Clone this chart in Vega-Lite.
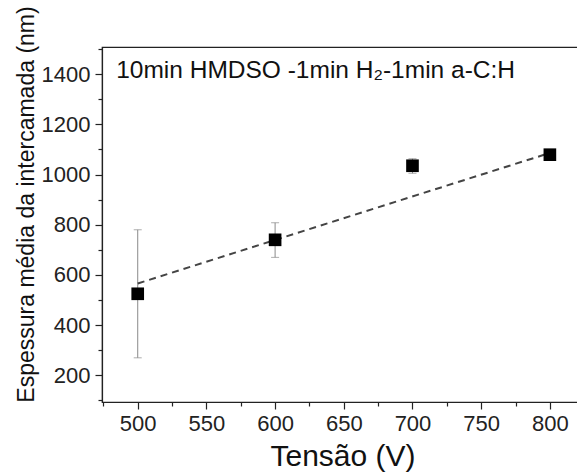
{
  "$schema": "https://vega.github.io/schema/vega-lite/v6.json",
  "autosize": {"type": "none"},
  "padding": {"left": 102, "top": 47, "right": 0, "bottom": 71},
  "width": 477,
  "height": 355,
  "config": {
    "view": {"stroke": "#222", "strokeWidth": 1.2},
    "font": "Liberation Sans",
    "axis": {"domainColor": "#222", "tickColor": "#222", "labelColor": "#222", "titleColor": "#111", "grid": false, "titleFontWeight": "normal"}
  },
  "datasets": {
    "pts": [
      {"tensao": 500, "esp": 525, "lo": 270, "hi": 780},
      {"tensao": 600, "esp": 740, "lo": 670, "hi": 808},
      {"tensao": 700, "esp": 1035, "lo": 1005, "hi": 1063},
      {"tensao": 800, "esp": 1079, "lo": 1068, "hi": 1090}
    ],
    "fit": [
      {"tensao": 500, "esp": 566},
      {"tensao": 800, "esp": 1086}
    ],
    "label": [
      {"tensao": 484.3, "esp": 1384, "txt": "10min HMDSO -1min H₂-1min a-C:H"}
    ]
  },
  "resolve": {"axis": {"x": "independent", "y": "independent"}},
  "layer": [
    {
      "data": {"name": "pts"},
      "mark": {"type": "rule", "color": "#8a8a8a", "strokeWidth": 1},
      "encoding": {
        "x": {"field": "tensao", "type": "quantitative", "scale": {"domain": [474, 821.2], "nice": false, "zero": false},
          "axis": {"values": [500, 550, 600, 650, 700, 750, 800], "format": "d", "tickSize": 7, "tickWidth": 1.2, "labelFontSize": 22, "labelPadding": 4, "title": "Tensão (V)", "titleFontSize": 30, "titleX": 168, "titleY": 63, "titleBaseline": "alphabetic", "titleAnchor": "start", "titleAlign": "left", "domainWidth": 1.2}},
        "y": {"field": "lo", "type": "quantitative", "scale": {"domain": [94, 1508], "nice": false, "zero": false},
          "axis": {"values": [200, 400, 600, 800, 1000, 1200, 1400], "format": "d", "tickSize": 7, "tickWidth": 1.2, "labelFontSize": 22, "labelPadding": 5, "title": "Espessura média da intercamada (nm)", "titleFontSize": 23, "titleX": -69, "titleY": 157, "titleBaseline": "alphabetic", "titleAlign": "center", "titleAnchor": "middle", "domainWidth": 1.2}},
        "y2": {"field": "hi"}
      }
    },
    {
      "data": {"name": "pts"},
      "mark": {"type": "tick", "orient": "horizontal", "color": "#8a8a8a", "size": 8, "thickness": 1},
      "encoding": {
        "x": {"field": "tensao", "type": "quantitative", "axis": {"values": [475, 525, 575, 625, 675, 725, 775], "tickSize": 4, "tickWidth": 1.2, "labels": false, "domain": false, "title": null, "orient": "bottom"}},
        "y": {"field": "lo", "type": "quantitative", "axis": {"values": [100, 300, 500, 700, 900, 1100, 1300, 1500], "tickSize": 4, "tickWidth": 1.2, "labels": false, "domain": false, "title": null, "orient": "left"}}
      }
    },
    {
      "data": {"name": "pts"},
      "mark": {"type": "tick", "orient": "horizontal", "color": "#8a8a8a", "size": 8, "thickness": 1},
      "encoding": {
        "x": {"field": "tensao", "type": "quantitative", "axis": null},
        "y": {"field": "hi", "type": "quantitative", "axis": null}
      }
    },
    {
      "data": {"name": "fit"},
      "mark": {"type": "line", "color": "#444", "strokeWidth": 2, "strokeDash": [7, 5]},
      "encoding": {
        "x": {"field": "tensao", "type": "quantitative", "axis": null},
        "y": {"field": "esp", "type": "quantitative", "axis": null}
      }
    },
    {
      "data": {"name": "pts"},
      "mark": {"type": "point", "shape": "square", "filled": true, "color": "#000", "size": 160, "opacity": 1},
      "encoding": {
        "x": {"field": "tensao", "type": "quantitative", "axis": null},
        "y": {"field": "esp", "type": "quantitative", "axis": null}
      }
    },
    {
      "data": {"name": "label"},
      "mark": {"type": "text", "align": "left", "baseline": "alphabetic", "fontSize": 24.5, "color": "#111"},
      "encoding": {
        "x": {"field": "tensao", "type": "quantitative", "axis": null},
        "y": {"field": "esp", "type": "quantitative", "axis": null},
        "text": {"field": "txt"}
      }
    }
  ]
}
